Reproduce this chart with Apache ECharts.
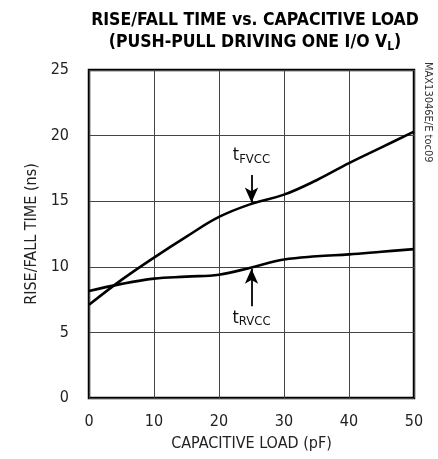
<!DOCTYPE html>
<html><head><meta charset="utf-8">
<script src="https://cdn.jsdelivr.net/npm/echarts@6/dist/echarts.min.js"></script>
<style>html,body{margin:0;padding:0;background:#fff}#c{width:438px;height:459px}</style>
</head><body><div id="c"></div>
<script>
const xValues = [0, 5, 10, 15, 20, 25, 30, 35, 40, 45, 50];
const tFVCC = [7.1, 9.0, 10.7, 12.3, 13.8, 14.8, 15.5, 16.6, 17.9, 19.1, 20.3];
const tRVCC = [8.15, 8.7, 9.1, 9.25, 9.4, 9.95, 10.55, 10.8, 10.95, 11.15, 11.35];
const xTicks = [0, 10, 20, 30, 40, 50];
const yTicks = [0, 5, 10, 15, 20, 25];

const F = '"Liberation Sans Narrow", "DejaVu Sans Condensed", sans-serif';
const chart = echarts.init(document.getElementById('c'));
const pair = (xs, ys) => xs.map((x, i) => [x, ys[i]]);

chart.setOption({
  animation: false,
  title: {
    text: '{a|RISE/FALL TIME vs. CAPACITIVE LOAD}\n{a|(PUSH-PULL DRIVING ONE I/O V}{s|L}{a|)}',
    left: 250, top: 4, textAlign: 'center',
    textStyle: {
      rich: {
        a: {fontFamily: F, fontWeight: 'bold', fontSize: 17.5, color: '#000', lineHeight: 22},
        s: {fontFamily: F, fontWeight: 'bold', fontSize: 12, color: '#000', verticalAlign: 'bottom', padding: [8, 0, 0, 0], lineHeight: 22}
      }
    }
  },
  grid: {left: 89, right: 24, top: 70, bottom: 61, show: true, borderColor: '#000', borderWidth: 2.5},
  xAxis: {
    type: 'value', min: 0, max: 50, interval: 10,
    name: 'CAPACITIVE LOAD (pF)', nameLocation: 'middle', nameGap: 38,
    nameTextStyle: {fontFamily: F, fontSize: 16, color: '#222'},
    axisLine: {show: false}, axisTick: {show: false},
    axisLabel: {fontFamily: F, fontSize: 16, color: '#222', margin: 16},
    splitLine: {lineStyle: {color: '#444', width: 1}}
  },
  yAxis: {
    type: 'value', min: 0, max: 25, interval: 5,
    name: 'RISE/FALL TIME (ns)', nameLocation: 'middle', nameGap: 45,
    nameTextStyle: {fontFamily: F, fontSize: 16, color: '#222'},
    axisLine: {show: false}, axisTick: {show: false},
    axisLabel: {fontFamily: F, fontSize: 16, color: '#222', margin: 20},
    splitLine: {lineStyle: {color: '#444', width: 1}}
  },
  graphic: [{
    type: 'text', x: 433, y: 62, rotation: -Math.PI / 2,
    style: {text: 'MAX13046E/E toc09', fontFamily: F, fontSize: 11, fill: '#333'}
  }],
  series: [
    {
      type: 'line', name: 'tFVCC', data: pair(xValues, tFVCC), smooth: 0.4, showSymbol: false,
      lineStyle: {color: '#000', width: 2.6},
      markLine: {
        silent: true, symbol: ['none', 'arrow'], symbolSize: [10, 15],
        lineStyle: {color: '#000', width: 1.8, type: 'solid'}, label: {show: false},
        data: [[{coord: [25, 17.0]}, {coord: [25, 14.9]}]]
      },
      markPoint: {
        symbol: 'circle', symbolSize: 1, itemStyle: {color: 'rgba(0,0,0,0)'},
        label: {show: true, position: 'inside',
          formatter: '{t|t}{s|FVCC}',
          rich: {t: {fontFamily: F, fontSize: 18, color: '#111'}, s: {fontFamily: F, fontSize: 13, color: '#111', padding: [8, 0, 0, 0]}}},
        data: [{coord: [25, 18.5]}]
      }
    },
    {
      type: 'line', name: 'tRVCC', data: pair(xValues, tRVCC), smooth: 0.4, showSymbol: false,
      lineStyle: {color: '#000', width: 2.6},
      markLine: {
        silent: true, symbol: ['none', 'arrow'], symbolSize: [10, 15],
        lineStyle: {color: '#000', width: 1.8, type: 'solid'}, label: {show: false},
        data: [[{coord: [25, 7.0]}, {coord: [25, 9.85]}]]
      },
      markPoint: {
        symbol: 'circle', symbolSize: 1, itemStyle: {color: 'rgba(0,0,0,0)'},
        label: {show: true, position: 'inside',
          formatter: '{t|t}{s|RVCC}',
          rich: {t: {fontFamily: F, fontSize: 18, color: '#111'}, s: {fontFamily: F, fontSize: 13, color: '#111', padding: [8, 0, 0, 0]}}},
        data: [{coord: [25, 6.1]}]
      }
    }
  ]
});
</script></body></html>
